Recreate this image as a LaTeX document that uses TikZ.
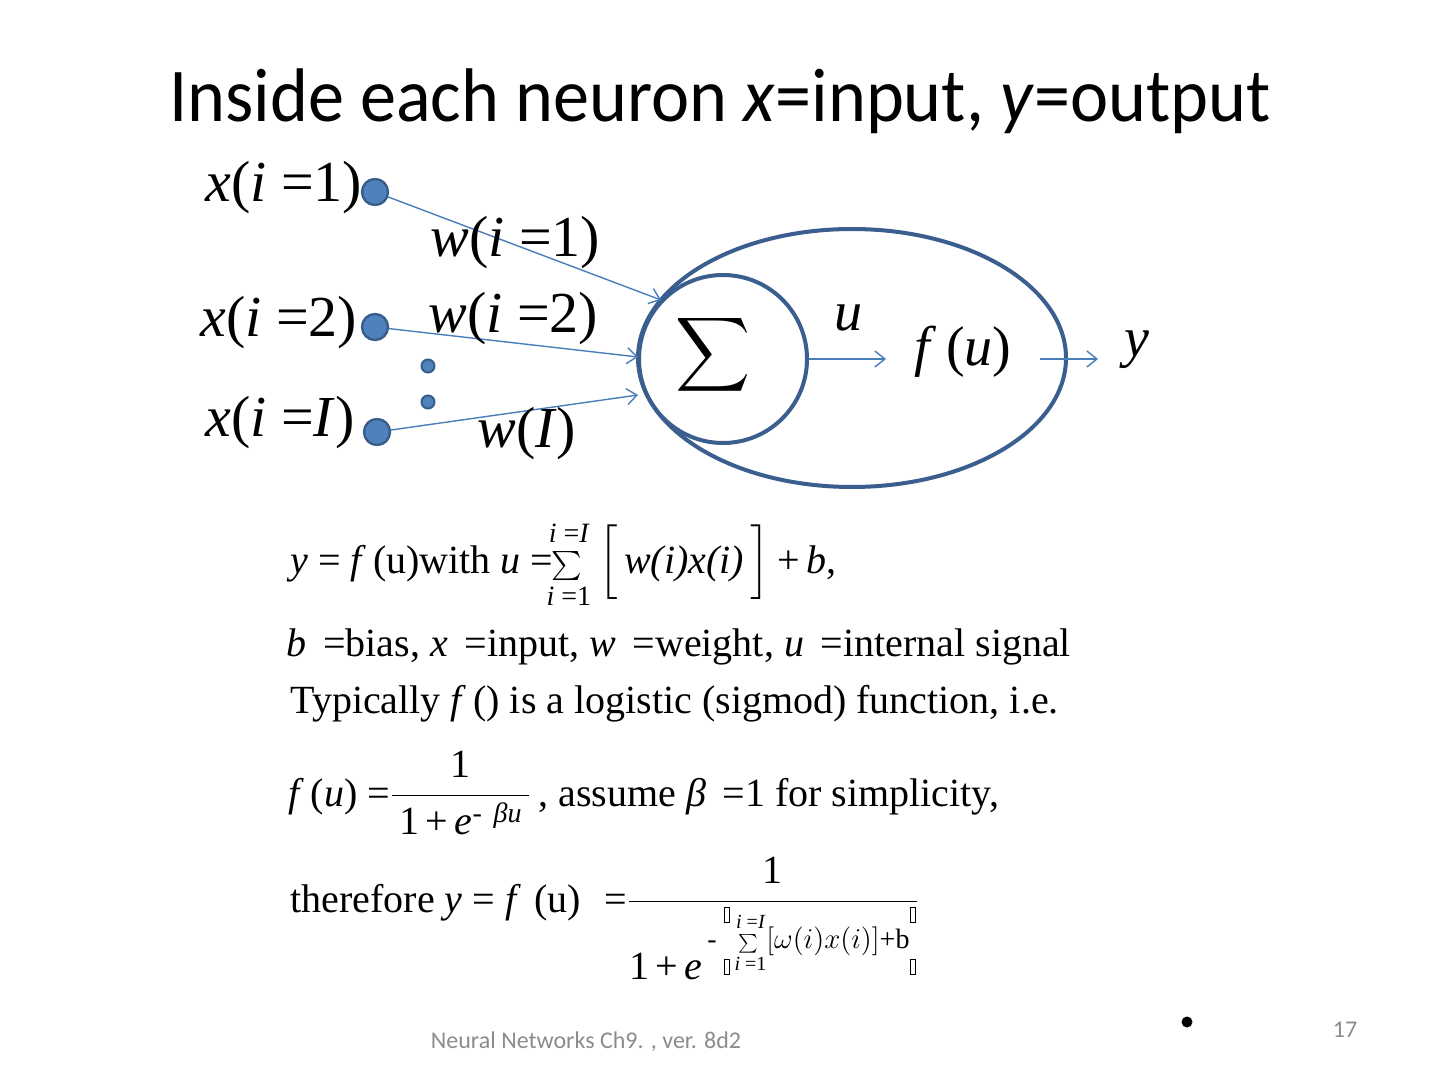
\documentclass[tikz,border=0pt]{standalone}
\usepackage{amsmath}
\usepackage{graphicx}
\usepackage{fontspec}
\usetikzlibrary{arrows.meta,shapes.geometric}
\setmainfont{Liberation Serif}
\newfontfamily\titlef{Carlito}
\newfontfamily\titlecf[FakeStretch=0.95]{Carlito}
\newfontfamily\eqf{Liberation Serif}
\newfontfamily\lblf{Liberation Serif}
\definecolor{nfill}{HTML}{4F81BD}
\definecolor{nline}{HTML}{385D8A}
\definecolor{wire}{HTML}{4A7EBB}
\definecolor{cellc}{HTML}{3A5F8F}
\definecolor{foot}{HTML}{8C8C8C}
\newcommand{\gbox}{{\fboxsep0pt\fboxrule0.3pt\framebox[3pt]{\rule{0pt}{7pt}}}}
\newcommand{\boxcol}{\vcenter{\hbox{\gbox}\kern2pt\hbox{\gbox}}}
\newcommand{\smallsum}[1]{\mathop{\scalebox{#1}{$\textstyle\sum$}}}
\tikzset{
 inp/.style={circle, fill=nfill, draw=nline, line width=1.2pt, minimum size=13pt, inner sep=0pt},
 dotn/.style={circle, fill=nfill, draw=nline, line width=1pt, minimum size=6.5pt, inner sep=0pt},
 lbl/.style={font=\lblf\fontsize{29}{32}\selectfont, inner sep=0pt, anchor=base west},
 wlink/.style={draw=wire, line width=0.7pt, -{Straight Barb[length=5pt,width=8pt]}},
 eq/.style={font=\eqf\fontsize{20}{24}\selectfont, anchor=base west, inner sep=0pt},
 ring/.style={draw=cellc, line width=2pt, inner sep=0pt},
}
\begin{document}
\begin{tikzpicture}[x=0.5pt,y=-0.5pt]
\useasboundingbox (0,0) rectangle (1440,1080);
\fill[white] (0,0) rectangle (1440,1080);

% title
\node[font=\titlecf\fontsize{38}{42}\selectfont, anchor=base, inner sep=0pt] (title) at (720,122)
 {Inside each neuron \textit{x}=input, \textit{y}=output};

% neuron body
\node[ring, ellipse, minimum width=214pt, minimum height=129pt] (cell) at (852,358) {};
\node[ring, circle, minimum size=84pt] (sum) at (723,359) {};
\node[inner sep=0pt] (sig) at (713,355) {\scalebox{2.6}{$\displaystyle\sum$}};
\node[font=\lblf\itshape\fontsize{28}{30}\selectfont, inner sep=0pt] (ulab) at (848,318) {u};
\node[font=\lblf\fontsize{28}{30}\selectfont, inner sep=0pt] (fu) at (963,352) {\textit{f}\,(\textit{u})};
\node[font=\lblf\itshape\fontsize{28}{30}\selectfont, inner sep=0pt] (ylab) at (1137,350) {y};
\coordinate (ue) at (886,359);
\coordinate (ys) at (1040,359);
\coordinate (ye) at (1098,359);
\draw[wlink] (sum.east) -- (ue);
\draw[wlink] (ys) -- (ye);

% inputs
\node[inp] (c1) at (375,192) {};
\node[inp] (c2) at (375,327) {};
\node[inp] (c3) at (377,432) {};
\node[dotn] (d1) at (428,366) {};
\node[dotn] (d2) at (428,402) {};
\coordinate (t1) at (661,300);
\coordinate (t2) at (638,357);
\coordinate (t3) at (638,395);
\draw[wlink] (c1) -- (t1);
\draw[wlink] (c2) -- (t2);
\draw[wlink] (c3) -- (t3);

\node[lbl] (x1) at (205,202) {\textit{x}(\textit{i} =1)};
\node[lbl] (x2) at (200,337) {\textit{x}(\textit{i} =2)};
\node[lbl] (x3) at (205,437) {\textit{x}(\textit{i} =\textit{I})};
\node[lbl] (w1) at (430,257) {\textit{w}(\textit{i} =1)};
\node[lbl] (w2) at (428,333) {\textit{w}(\textit{i} =2)};
\node[lbl] (w3) at (477,447) {\textit{w}(\textit{I})};

% formulas
\node[eq] (eq1) at (290,573) {\textit{y} = \textit{f}\,(u)with \textit{u} =$\!\smallsum{0.7}\limits_{\text{\itshape i }\text{=1}}^{\text{\itshape i }\text{=\itshape I}}\Big[\text{\,\itshape w(i)x(i)\,}\Big]\text{\,+\,}$\textit{b},};
\node[eq] (eq2) at (286,656) {\textit{b}\, =bias, \textit{x}\, =input, \textit{w}\, =weight, \textit{u}\, =internal signal};
\node[eq] (eq3) at (290,713) {Typically \textit{f}\,() is a logistic (sigmod) function, i.e.};
\node[eq] (eq4) at (288,806) {\textit{f}\,(\textit{u}) =$\dfrac{\text{1}}{\text{\,1\,+\,}\textit{e}^{\text{-\ \,}\textit{\char"03B2 u}}\text{\,}}$\,, assume \textit{\char"03B2}\, =1 for simplicity,};
\node[eq] (eq5) at (290,912) {therefore \textit{y} = \textit{f}\,\,(u)\,\, =$\dfrac{\text{1}}{\text{1\,+\,}\textit{e}^{\text{\,- }\boxcol\smallsum{0.45}\limits_{\text{\itshape i }\text{=1}}^{\text{\itshape i }\text{=\itshape I}}[\omega(i)x(i)]\text{+b}\boxcol}}$};

% footer
\node[font=\titlef\fontsize{12}{14}\selectfont, text=foot, inner sep=0pt] (foot) at (586,1042) {Neural Networks Ch9. , ver. 8d2};
\node[font=\titlef\fontsize{12}{14}\selectfont, text=foot, inner sep=0pt] (pnum) at (1345,1030) {17};
\node[circle, fill=black, minimum size=5.5pt, inner sep=0pt] (bul) at (1187,1022) {};
\end{tikzpicture}
\end{document}
